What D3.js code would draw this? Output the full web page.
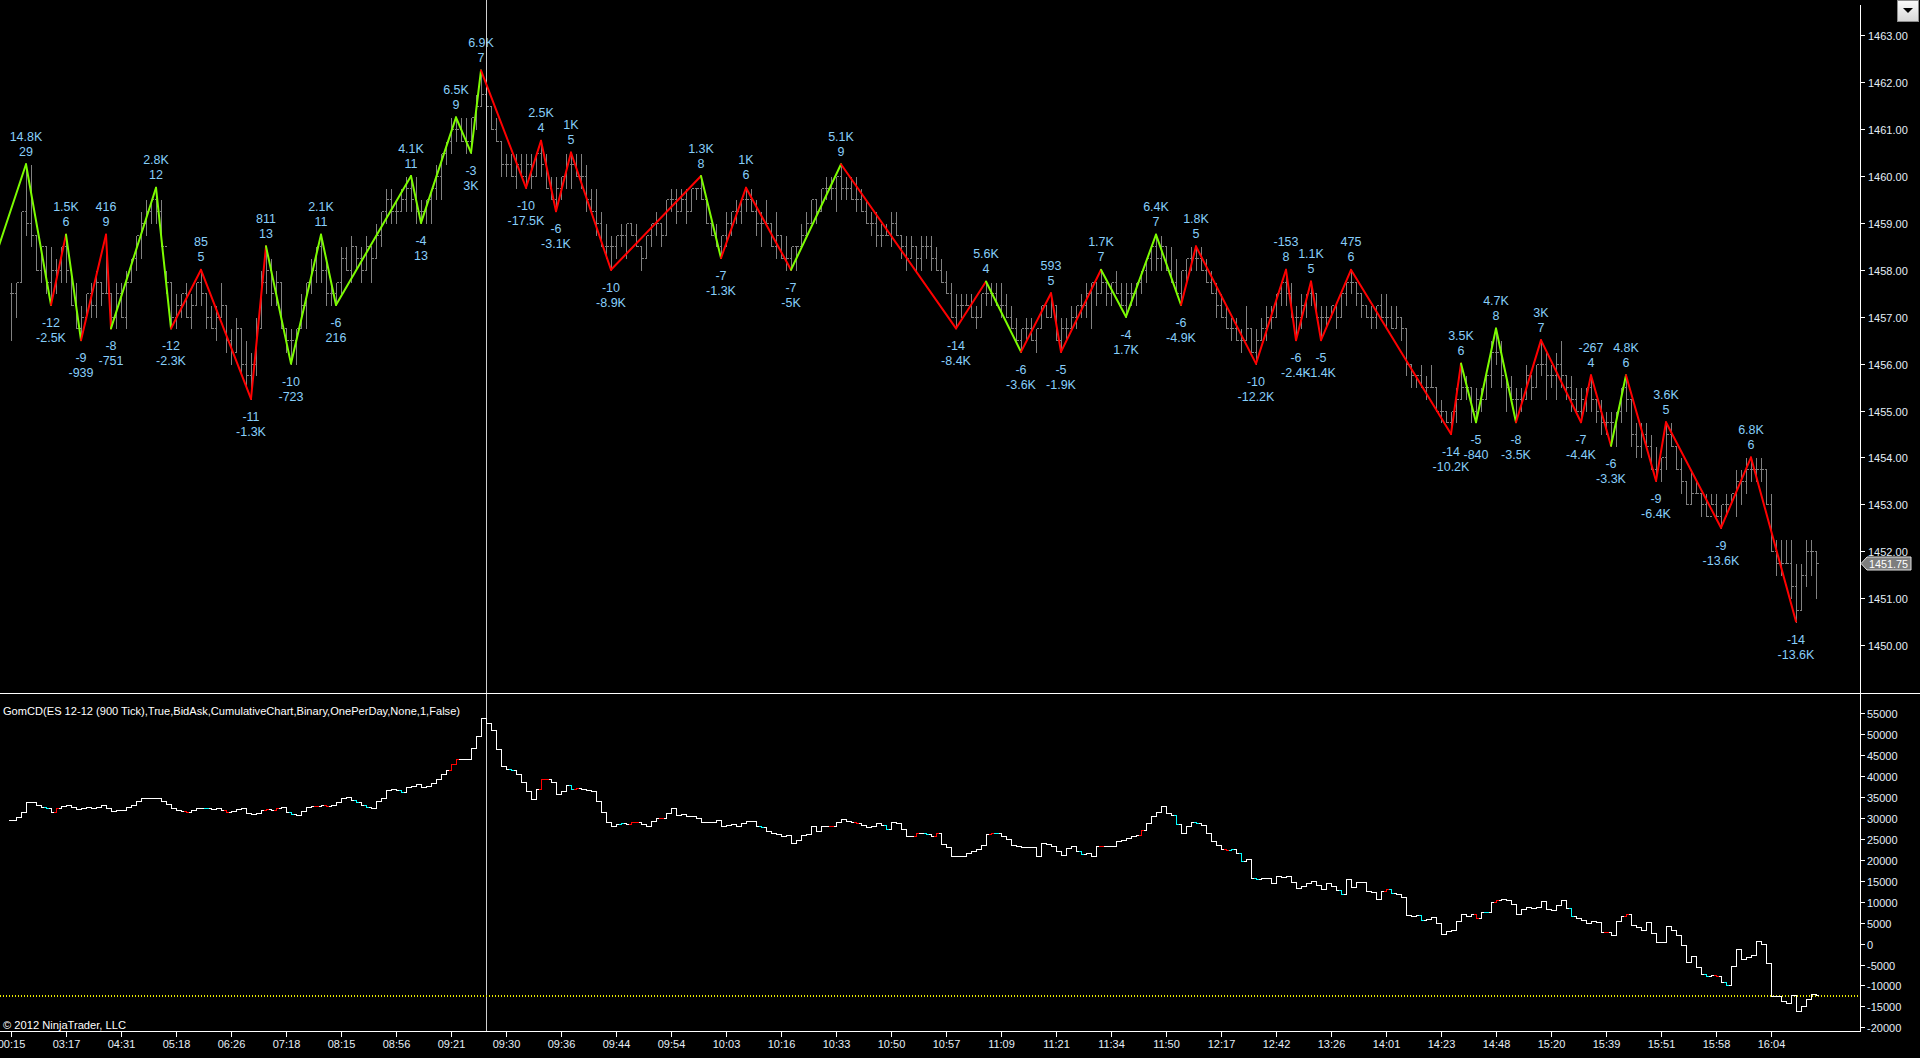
<!DOCTYPE html>
<html>
<head>
<meta charset="utf-8">
<script src="https://cdn.jsdelivr.net/npm/d3@7"></script>
<style>
html, body { margin: 0; padding: 0; background: #000; overflow: hidden; }
svg { display: block; }
text { font-family: "Liberation Sans", Arial, sans-serif; }
</style>
</head>
<body>
<svg id="chart" width="1920" height="1058"></svg>
<script>
// ES 12-12 900 tick bars: high / low / close per bar
const barHigh = [
  1457.75,1457.75,1459.25,1460.25,1460.25,1458.75,1458.5,1458.5,1458.5,1458.25,
  1458.5,1458.75,1458.0,1457.75,1457.25,1457.5,1457.75,1458.0,1457.75,1458.75,
  1457.5,1457.75,1457.75,1458.0,1458.25,1458.75,1459.25,1459.5,1459.5,1459.75,
  1459.5,1458.0,1457.75,1457.5,1457.5,1457.75,1457.5,1457.75,1458.0,1457.5,
  1457.25,1457.25,1457.75,1457.25,1456.75,1457.0,1456.75,1456.5,1456.25,1457.0,
  1458.0,1458.5,1458.25,1458.0,1457.75,1456.75,1456.75,1456.75,1457.5,1457.75,
  1458.25,1458.5,1458.75,1458.25,1457.75,1457.75,1458.5,1458.5,1458.75,1458.5,
  1458.5,1458.75,1458.5,1459.0,1459.25,1459.75,1459.75,1459.5,1459.75,1460.0,
  1460.0,1460.0,1459.5,1459.5,1459.75,1460.25,1460.5,1460.75,1461.25,1461.25,
  1461.25,1461.25,1461.25,1461.75,1462.25,1461.75,1461.5,1461.25,1460.75,1460.5,
  1460.5,1460.5,1460.5,1460.5,1460.5,1460.5,1460.75,1460.5,1460.0,1460.0,
  1460.0,1460.5,1460.5,1460.5,1460.5,1460.25,1459.75,1459.75,1459.25,1459.0,
  1458.75,1458.75,1459.0,1459.0,1459.0,1459.0,1458.5,1458.75,1459.0,1459.25,
  1459.0,1459.5,1459.75,1459.75,1459.75,1459.75,1459.75,1459.75,1460.0,1459.5,
  1459.0,1459.0,1458.75,1459.25,1459.25,1459.5,1459.5,1459.75,1459.75,1459.5,
  1459.25,1459.5,1459.0,1459.25,1458.75,1458.75,1458.5,1458.5,1459.0,1459.25,
  1459.5,1459.5,1459.75,1460.0,1460.0,1460.0,1460.25,1460.0,1460.0,1460.0,
  1459.75,1459.5,1459.25,1459.25,1459.0,1459.0,1459.25,1459.25,1458.75,1458.75,
  1458.75,1458.5,1458.75,1458.75,1458.75,1458.5,1458.25,1458.0,1457.75,1457.5,
  1457.5,1457.5,1457.5,1457.25,1457.5,1457.75,1457.75,1457.75,1457.75,1457.5,
  1457.25,1457.0,1456.75,1457.0,1457.0,1456.75,1457.25,1457.25,1457.5,1457.25,
  1457.0,1457.0,1457.25,1457.25,1457.5,1457.75,1457.75,1457.75,1458.0,1457.75,
  1457.75,1458.0,1457.75,1457.75,1457.75,1457.75,1458.0,1458.25,1458.5,1458.75,
  1458.75,1458.5,1458.5,1458.25,1458.0,1458.25,1458.5,1458.5,1458.5,1458.25,
  1458.0,1457.75,1457.5,1457.25,1457.0,1457.0,1456.75,1457.25,1456.75,1456.75,
  1457.0,1457.25,1457.25,1457.5,1457.75,1458.0,1457.75,1457.25,1457.5,1457.5,
  1457.75,1457.5,1457.25,1457.25,1457.25,1457.25,1457.5,1457.75,1458.0,1457.75,
  1457.5,1457.25,1457.25,1457.25,1457.5,1457.5,1457.25,1457.25,1457.0,1456.75,
  1456.0,1455.75,1456.0,1455.75,1456.0,1455.5,1455.25,1455.0,1455.0,1455.5,
  1456.0,1455.75,1455.5,1455.5,1455.5,1455.75,1456.5,1456.75,1456.5,1455.75,
  1455.75,1455.5,1455.5,1456.0,1455.75,1456.0,1456.5,1456.25,1456.0,1456.25,
  1456.5,1455.75,1455.75,1455.5,1455.5,1455.5,1455.75,1455.25,1455.25,1455.0,
  1455.0,1455.0,1455.5,1455.75,1455.25,1454.75,1454.75,1454.75,1454.5,1454.25,
  1454.0,1454.75,1454.75,1454.25,1454.0,1453.5,1453.75,1453.5,1453.25,1453.25,
  1453.25,1453.25,1453.0,1453.25,1453.25,1453.75,1453.75,1454.0,1454.0,1454.0,
  1454.0,1453.75,1453.25,1452.25,1452.25,1452.25,1452.25,1451.75,1451.75,1452.25,
  1452.25,1452.0
];
const barLow = [
  1456.5,1457.0,1457.75,1458.75,1458.5,1458.0,1457.75,1457.5,1457.25,1457.5,
  1457.75,1457.75,1457.25,1456.75,1456.5,1457.0,1457.0,1457.0,1457.25,1457.5,
  1456.75,1456.75,1457.0,1456.75,1457.75,1458.0,1458.25,1458.75,1459.0,1459.0,
  1458.5,1457.5,1456.75,1456.75,1457.0,1457.0,1456.75,1457.25,1457.25,1456.75,
  1456.75,1456.5,1457.0,1456.25,1456.0,1456.25,1455.75,1455.5,1455.25,1455.75,
  1456.75,1457.5,1457.25,1457.25,1456.75,1456.25,1456.0,1456.0,1456.75,1456.75,
  1457.5,1457.75,1457.75,1457.25,1457.25,1457.25,1457.5,1458.0,1457.75,1458.0,
  1457.75,1458.0,1457.75,1458.25,1458.5,1459.0,1459.0,1459.0,1459.25,1459.25,
  1459.25,1459.0,1459.0,1459.0,1459.0,1459.5,1459.5,1460.25,1460.5,1460.75,
  1460.75,1460.5,1460.5,1461.0,1461.5,1461.25,1461.0,1460.75,1460.0,1460.0,
  1460.0,1459.75,1460.0,1459.75,1459.75,1460.0,1460.0,1459.75,1459.5,1459.25,
  1459.5,1459.75,1459.75,1460.0,1459.75,1459.25,1459.25,1458.75,1458.5,1458.25,
  1458.0,1458.25,1458.5,1458.25,1458.75,1458.5,1458.0,1458.25,1458.5,1458.75,
  1458.5,1458.75,1459.25,1459.0,1459.25,1459.0,1459.25,1459.5,1459.5,1459.0,
  1458.75,1458.5,1458.25,1458.5,1458.75,1459.0,1459.0,1459.25,1459.25,1458.75,
  1458.5,1459.0,1458.5,1458.25,1458.25,1458.0,1458.0,1458.0,1458.5,1458.75,
  1459.0,1459.0,1459.25,1459.5,1459.5,1459.25,1459.5,1459.5,1459.5,1459.25,
  1459.25,1459.0,1458.75,1458.5,1458.5,1458.75,1458.5,1458.75,1458.25,1458.0,
  1458.25,1458.0,1458.0,1458.25,1458.0,1458.0,1457.75,1457.5,1457.0,1456.75,
  1457.0,1457.25,1457.0,1456.75,1457.0,1457.25,1457.25,1457.25,1457.0,1457.0,
  1456.75,1456.5,1456.25,1456.5,1456.5,1456.25,1456.75,1457.0,1457.0,1456.5,
  1456.25,1456.5,1456.75,1456.75,1457.0,1457.0,1456.75,1457.25,1457.5,1457.25,
  1457.25,1457.5,1457.25,1457.0,1457.25,1457.25,1457.5,1457.75,1458.0,1458.0,
  1458.0,1458.0,1457.75,1457.5,1457.25,1457.75,1458.0,1458.0,1458.0,1457.75,
  1457.5,1457.0,1457.0,1456.75,1456.5,1456.5,1456.25,1456.5,1456.25,1456.0,
  1456.5,1456.5,1456.75,1457.0,1457.25,1457.25,1457.0,1456.5,1456.75,1457.0,
  1457.25,1457.0,1456.5,1456.75,1457.0,1456.75,1457.0,1457.25,1457.5,1457.25,
  1457.0,1457.0,1456.75,1456.75,1457.0,1456.75,1456.75,1456.75,1456.5,1455.75,
  1455.5,1455.5,1455.5,1455.25,1455.5,1455.0,1454.75,1454.75,1454.5,1454.75,
  1455.25,1455.25,1454.75,1454.75,1455.0,1455.25,1455.5,1456.0,1455.5,1455.0,
  1455.25,1454.75,1455.0,1455.25,1455.25,1455.5,1455.75,1455.25,1455.5,1455.25,
  1455.5,1455.25,1455.0,1455.0,1454.75,1455.0,1455.0,1454.75,1454.5,1454.5,
  1454.25,1454.25,1454.75,1455.0,1454.25,1454.0,1454.0,1454.25,1453.75,1453.5,
  1453.5,1453.75,1454.25,1453.75,1453.25,1453.0,1453.0,1453.25,1452.75,1452.75,
  1453.0,1452.75,1452.5,1452.75,1453.0,1452.75,1453.0,1453.25,1453.5,1453.5,
  1453.5,1453.0,1452.0,1451.5,1451.5,1451.75,1451.0,1450.5,1450.75,1451.25,
  1451.5,1451.0
];
const barClose = [
  1457.5,1457.75,1459.25,1459.0,1458.75,1458.0,1458.5,1457.75,1458.0,1458.0,
  1458.5,1458.0,1457.25,1456.75,1457.0,1457.5,1457.25,1457.75,1457.5,1457.5,
  1457.0,1457.5,1457.0,1457.75,1458.25,1458.75,1459.0,1459.25,1459.5,1459.25,
  1458.5,1457.75,1457.0,1457.25,1457.5,1457.0,1457.25,1457.75,1457.5,1457.0,
  1456.75,1457.0,1457.25,1456.5,1456.25,1456.75,1456.0,1455.75,1456.0,1456.75,
  1457.75,1458.0,1457.5,1457.75,1456.75,1456.5,1456.5,1456.75,1457.25,1457.75,
  1458.0,1458.5,1458.0,1457.5,1457.5,1457.75,1458.25,1458.0,1458.5,1458.25,
  1458.0,1458.5,1458.25,1458.75,1459.25,1459.5,1459.25,1459.25,1459.5,1459.75,
  1459.5,1459.25,1459.25,1459.5,1459.75,1460.0,1460.5,1460.75,1461.0,1461.0,
  1460.75,1460.75,1461.25,1461.5,1461.75,1461.5,1461.0,1460.75,1460.25,1460.25,
  1460.0,1460.25,1460.0,1460.25,1460.0,1460.5,1460.25,1459.75,1459.5,1459.75,
  1460.0,1460.25,1460.25,1460.0,1460.0,1459.5,1459.25,1459.0,1458.5,1458.5,
  1458.5,1458.75,1458.75,1459.0,1458.75,1458.5,1458.25,1458.75,1459.0,1459.0,
  1458.75,1459.5,1459.5,1459.25,1459.5,1459.25,1459.75,1459.75,1459.5,1459.0,
  1458.75,1458.5,1458.75,1459.0,1459.25,1459.25,1459.5,1459.5,1459.25,1459.0,
  1459.0,1459.0,1458.5,1458.75,1458.25,1458.25,1458.5,1458.5,1458.75,1459.0,
  1459.5,1459.25,1459.75,1459.75,1459.75,1460.0,1459.75,1459.75,1459.5,1459.5,
  1459.25,1459.0,1459.0,1458.75,1458.75,1458.75,1459.0,1458.75,1458.5,1458.25,
  1458.5,1458.25,1458.5,1458.5,1458.25,1458.0,1457.75,1457.5,1457.0,1457.25,
  1457.25,1457.25,1457.0,1457.0,1457.5,1457.5,1457.5,1457.25,1457.25,1457.0,
  1456.75,1456.5,1456.75,1456.75,1456.5,1456.75,1457.25,1457.0,1457.25,1456.5,
  1456.75,1456.75,1457.0,1457.25,1457.25,1457.5,1457.75,1457.5,1457.75,1457.5,
  1457.75,1457.5,1457.25,1457.5,1457.5,1457.75,1458.0,1458.25,1458.5,1458.25,
  1458.5,1458.0,1457.75,1457.5,1458.0,1458.25,1458.25,1458.25,1458.0,1457.75,
  1457.5,1457.25,1457.0,1456.75,1456.75,1456.5,1456.5,1456.75,1456.25,1456.5,
  1456.75,1457.0,1457.0,1457.5,1457.75,1457.5,1457.0,1457.0,1457.25,1457.5,
  1457.5,1457.0,1457.0,1457.0,1457.25,1457.0,1457.5,1457.75,1457.75,1457.5,
  1457.25,1457.0,1457.0,1457.25,1457.0,1457.0,1456.75,1457.0,1456.75,1456.0,
  1455.75,1455.75,1455.5,1455.5,1455.5,1455.0,1455.0,1454.75,1455.0,1455.25,
  1455.5,1455.5,1455.0,1455.25,1455.25,1455.75,1456.25,1456.25,1455.75,1455.5,
  1455.25,1455.25,1455.25,1455.75,1455.5,1456.0,1456.0,1455.75,1455.75,1456.0,
  1455.75,1455.5,1455.25,1455.0,1455.25,1455.5,1455.25,1455.0,1454.75,1454.75,
  1454.75,1455.0,1455.5,1455.25,1454.5,1454.25,1454.5,1454.25,1453.75,1453.75,
  1454.0,1454.5,1454.25,1453.75,1453.5,1453.0,1453.25,1453.25,1453.0,1452.75,
  1453.0,1452.75,1453.0,1453.0,1453.25,1453.5,1453.5,1453.75,1453.75,1453.75,
  1453.75,1453.0,1452.0,1451.75,1451.75,1451.75,1451.25,1450.75,1451.5,1452.0,
  1452.0,1451.75
];

// swing pivots: bar index, price, labels, segment colours (G = up delta, R = down delta)
const pivotBar = [-4, 3, 8, 11, 14, 19, 20, 29, 32, 38, 48, 51, 56, 62, 65, 80, 82, 89, 92, 94,
  103, 106, 109, 112, 120, 138, 142, 147, 156, 166, 189, 195, 202, 208, 210, 218, 223, 229, 234, 237,
  249, 255, 257, 260, 262, 268, 288, 290, 293, 297, 301, 306, 314, 316, 320, 323, 329, 331, 342, 348, 357];
const pivotPrice = [1458.0, 1460.25, 1457.25, 1458.75, 1456.5, 1458.75, 1456.75, 1459.75, 1456.75, 1458.0,
  1455.25, 1458.5, 1456.0, 1458.75, 1457.25, 1460.0, 1459.0, 1461.25, 1460.5, 1462.25,
  1459.75, 1460.75, 1459.25, 1460.5, 1458.0, 1460.0, 1458.25, 1459.75, 1458.0, 1460.25,
  1456.75, 1457.75, 1456.25, 1457.5, 1456.25, 1458.0, 1457.0, 1458.75, 1457.25, 1458.5,
  1456.0, 1458.0, 1456.5, 1457.75, 1456.5, 1458.0, 1454.5, 1456.0, 1454.75, 1456.75,
  1454.75, 1456.5, 1454.75, 1455.75, 1454.25, 1455.75, 1453.5, 1454.75, 1452.5, 1454.0, 1450.5];
const pivotDelta = ["", "14.8K", "-2.5K", "1.5K", "-939", "416", "-751", "2.8K", "-2.3K", "85",
  "-1.3K", "811", "-723", "2.1K", "216", "4.1K", "13", "6.5K", "3K", "6.9K",
  "-17.5K", "2.5K", "-3.1K", "1K", "-8.9K", "1.3K", "-1.3K", "1K", "-5K", "5.1K",
  "-8.4K", "5.6K", "-3.6K", "593", "-1.9K", "1.7K", "1.7K", "6.4K", "-4.9K", "1.8K",
  "-12.2K", "-153", "-2.4K", "1.1K", "-1.4K", "475", "-10.2K", "3.5K", "-840", "4.7K",
  "-3.5K", "3K", "-4.4K", "-267", "-3.3K", "4.8K", "-6.4K", "3.6K", "-13.6K", "6.8K", "-13.6K"];
const pivotCount = ["", "29", "-12", "6", "-9", "9", "-8", "12", "-12", "5",
  "-11", "13", "-10", "11", "-6", "11", "-4", "9", "-3", "7",
  "-10", "4", "-6", "5", "-10", "8", "-7", "6", "-7", "9",
  "-14", "4", "-6", "5", "-5", "7", "-4", "7", "-6", "5",
  "-10", "8", "-6", "5", "-5", "6", "-14", "6", "-5", "8",
  "-8", "7", "-7", "4", "-6", "6", "-9", "5", "-9", "6", "-14"];
const segmentColor = "GGRGRRGGRRRGGGGGGGGRRRRRRGRRGRRGRRRGGGRRRRRRRRRGGGRRRRGRRRRR";

// cumulative delta, one value per bar
const cumDelta = [
  29500,30200,31500,33900,33700,33100,32700,32300,31500,32500,
  32900,33100,32600,32200,32300,32600,32300,32700,33000,32300,
  31700,31800,32000,32600,33100,34100,34800,34800,34800,34700,
  34100,33400,32300,32000,31700,31400,32000,32500,32500,32300,
  32100,32500,32000,31400,31700,32100,32300,31300,30900,31300,
  31800,32100,32000,32300,32600,31400,31000,30700,31700,32600,
  32900,32900,33100,32900,33100,33700,34700,35100,34300,33700,
  33100,32700,32300,34000,34700,36700,36800,36700,36300,37400,
  37600,38200,37400,37600,38400,39400,40600,41400,42800,44000,
  44100,44100,46800,49600,53800,52600,50900,46400,42400,41700,
  41400,40600,38600,36400,34600,36800,39200,39400,38600,35800,
  36400,37800,37000,37200,37000,36700,36400,34000,31500,29100,
  28100,28600,28700,28600,29000,29000,28500,28100,29300,29900,
  30100,31100,32300,30700,30900,30400,30400,30100,29100,29100,
  29000,29500,28100,28300,28500,28100,28900,29300,29300,28200,
  27800,27000,26400,26200,25600,26000,24000,24800,26000,26200,
  28000,27000,28000,28100,28100,29100,29800,29300,29100,28900,
  28300,27900,28100,28700,28300,27300,29100,28700,27300,25600,
  25600,26500,26500,26200,25600,26500,23800,23000,20800,20900,
  21000,21700,22200,22500,23500,26200,26500,26400,25600,25000,
  23600,23200,23000,23000,23000,20900,24100,23800,23300,22000,
  21200,22800,23300,22200,21400,21700,20800,23200,23300,23200,
  23300,24400,24800,25200,25600,26000,27200,28900,30400,31500,
  32800,31200,30700,28500,26400,28000,29100,28700,28300,26500,
  24400,23600,22600,22400,22600,21600,19700,20300,15700,15400,
  15600,15600,14400,16200,16000,16200,14600,13300,13800,14500,
  15000,14100,13000,14500,13800,12900,11900,15400,13600,14600,
  14600,12600,12200,10700,12500,13000,12000,11900,11100,6900,
  6700,6900,5700,5900,6300,4900,2400,3000,3300,5400,
  7100,6700,7100,6200,7500,7500,9900,10400,10700,10400,
  9500,7100,8300,8700,8500,8700,10100,8300,8100,9100,
  10300,8500,6700,6100,5700,4900,5500,5100,2800,2800,
  2000,5400,6700,7100,4500,4000,3300,5100,2500,400,
  400,4100,3200,2000,-400,-4300,-3000,-5500,-7300,-7700,
  -7500,-7700,-9100,-9900,-5400,-1400,-3600,-3300,-2800,600,
  0,-4700,-12600,-12500,-13800,-14100,-12200,-16200,-15000,-13300,
  -12000,-12200
];
const deltaCyanBars = [7, 39, 56, 69, 71, 78, 100, 112, 122, 150, 175, 183, 197, 214, 233, 237, 244, 246, 249, 266, 276, 282, 295, 312, 339, 343];
const deltaRedBars = [9, 35, 43, 51, 53, 61, 63, 88, 89, 106, 107, 113, 124, 125, 130, 164, 169, 181, 185, 196, 218, 226, 243, 275, 293, 297, 319, 323, 341];
const deltaLevel = -12300;

const priceTicks = [1450, 1451, 1452, 1453, 1454, 1455, 1456, 1457, 1458, 1459, 1460, 1461, 1462, 1463];
const deltaTicks = [55000, 50000, 45000, 40000, 35000, 30000, 25000, 20000, 15000, 10000, 5000, 0, -5000, -10000, -15000, -20000];
const timeLabels = ["00:15", "03:17", "04:31", "05:18", "06:26", "07:18", "08:15", "08:56", "09:21", "09:30", "09:36",
  "09:44", "09:54", "10:03", "10:16", "10:33", "10:50", "10:57", "11:09", "11:21", "11:34", "11:50",
  "12:17", "12:42", "13:26", "14:01", "14:23", "14:48", "15:20", "15:39", "15:51", "15:58", "16:04"];
const barsPerLabel = 11;
const lastPrice = 1451.75;
const crosshairBar = 95;

// layout
const W = 1920, H = 1058;
const axisX = 1860, sepY = 693, bottomY = 1031;
const axisText = '#e4eef8';

const svg = d3.select('#chart');
svg.append('rect').attr('width', W).attr('height', H).attr('fill', '#000');

const x = d3.scaleLinear().domain([0, barHigh.length - 1]).range([11, 11 + 5 * (barHigh.length - 1)]);
const yPrice = d3.scaleLinear().domain([1450, 1463]).range([645, 35.3]);
const yDelta = d3.scaleLinear().domain([-20000, 55000]).range([1027.3, 713.3]);
const px = i => Math.round(x(i)) + 0.5;
const py = v => Math.round(yPrice(v)) + 0.5;
const dy = v => Math.round(yDelta(v)) + 0.5;

const defs = svg.append('defs');
defs.append('clipPath').attr('id', 'clipMain')
  .append('rect').attr('x', 0).attr('y', 0).attr('width', axisX).attr('height', sepY);
defs.append('clipPath').attr('id', 'clipLower')
  .append('rect').attr('x', 0).attr('y', sepY + 1).attr('width', axisX).attr('height', bottomY - sepY - 1);
const grad = defs.append('linearGradient').attr('id', 'btnGrad').attr('x1', 0).attr('y1', 0).attr('x2', 0).attr('y2', 1);
grad.append('stop').attr('offset', '0%').attr('stop-color', '#fbfbfb');
grad.append('stop').attr('offset', '100%').attr('stop-color', '#d6d6d6');

// price bars
const barIdx = d3.range(barHigh.length);
svg.append('g')
  .attr('clip-path', 'url(#clipMain)')
  .attr('stroke', '#808080').attr('fill', 'none').attr('shape-rendering', 'crispEdges')
  .selectAll('path').data(barIdx).join('path')
  .attr('d', i => {
    const xi = px(i);
    const open = i > 0 ? barClose[i - 1] : barClose[i];
    return `M${xi},${py(barHigh[i])}V${py(barLow[i])}` +
      `M${xi - 2},${py(open)}H${xi}M${xi},${py(barClose[i])}H${xi + 2}`;
  });

// crosshair
svg.append('line')
  .attr('x1', px(crosshairBar)).attr('x2', px(crosshairBar))
  .attr('y1', 0).attr('y2', bottomY)
  .attr('stroke', '#cfcfcf').attr('stroke-width', 1).attr('shape-rendering', 'crispEdges');

// zigzag swings
const segIdx = d3.range(pivotBar.length - 1);
svg.append('g').attr('clip-path', 'url(#clipMain)')
  .selectAll('line').data(segIdx).join('line')
  .attr('x1', k => x(pivotBar[k])).attr('y1', k => yPrice(pivotPrice[k]))
  .attr('x2', k => x(pivotBar[k + 1])).attr('y2', k => yPrice(pivotPrice[k + 1]))
  .attr('stroke', k => segmentColor[k] === 'G' ? '#7cfc00' : '#ff0000')
  .attr('stroke-width', 2).attr('stroke-linecap', 'round');

// swing labels
const labelIdx = d3.range(1, pivotBar.length);
const isHigh = k => pivotPrice[k] > pivotPrice[k - 1];
const gLab = svg.append('g')
  .attr('fill', '#87cefa').attr('font-size', '12.5px').attr('text-anchor', 'middle');
labelIdx.forEach(k => {
  const xk = x(pivotBar[k]), yk = yPrice(pivotPrice[k]);
  if (isHigh(k)) {
    gLab.append('text').attr('x', xk).attr('y', yk - 23.5).text(pivotDelta[k]);
    gLab.append('text').attr('x', xk).attr('y', yk - 8.5).text(pivotCount[k]);
  } else {
    gLab.append('text').attr('x', xk).attr('y', yk + 22).text(pivotCount[k]);
    gLab.append('text').attr('x', xk).attr('y', yk + 37).text(pivotDelta[k]);
  }
});

// cumulative delta panel
const deltaColor = i => deltaCyanBars.includes(i) ? '#00ffff' : (deltaRedBars.includes(i) ? '#ff0000' : '#ffffff');
const gDelta = svg.append('g').attr('clip-path', 'url(#clipLower)')
  .attr('fill', 'none').attr('shape-rendering', 'crispEdges');

gDelta.append('line')
  .attr('x1', 0).attr('x2', axisX)
  .attr('y1', dy(deltaLevel)).attr('y2', dy(deltaLevel))
  .attr('stroke', '#e8e800').attr('stroke-width', 2).attr('stroke-dasharray', '1,2');

gDelta.selectAll('path').data(barIdx).join('path')
  .attr('stroke', deltaColor).attr('stroke-width', 1)
  .attr('d', i => {
    const xi = px(i);
    const open = i > 0 ? cumDelta[i - 1] : cumDelta[i];
    return `M${xi - 2.5},${dy(open)}H${xi}V${dy(cumDelta[i])}H${xi + 2.5}`;
  });

// frame lines
const frame = svg.append('g').attr('stroke', '#ffffff').attr('shape-rendering', 'crispEdges');
frame.append('line').attr('x1', 0).attr('x2', W).attr('y1', sepY + 0.5).attr('y2', sepY + 0.5);
frame.append('line').attr('x1', 0).attr('x2', axisX).attr('y1', bottomY + 0.5).attr('y2', bottomY + 0.5);
frame.append('line').attr('x1', axisX + 0.5).attr('x2', axisX + 0.5).attr('y1', 5).attr('y2', bottomY + 0.5);

// price axis
const gPA = svg.append('g');
priceTicks.forEach(p => {
  const yy = Math.round(yPrice(p)) + 0.5;
  gPA.append('line').attr('x1', axisX).attr('x2', axisX + 5).attr('y1', yy).attr('y2', yy)
    .attr('stroke', '#ffffff').attr('shape-rendering', 'crispEdges');
  gPA.append('text').attr('x', axisX + 8).attr('y', yy + 4)
    .attr('fill', axisText).attr('font-size', '11px').text(p.toFixed(2));
});

// last price marker
const yl = Math.round(yPrice(lastPrice)) + 0.5;
svg.append('path')
  .attr('d', `M${axisX + 1},${yl} L${axisX + 7},${yl - 6.5} H${axisX + 51} V${yl + 6.5} H${axisX + 7} Z`)
  .attr('fill', '#7d7d7d').attr('stroke', '#e0e0e0').attr('stroke-width', 1);
svg.append('text').attr('x', axisX + 9).attr('y', yl + 4)
  .attr('fill', '#ffffff').attr('font-size', '11px')
  .attr('textLength', 39).attr('lengthAdjust', 'spacingAndGlyphs')
  .text(lastPrice.toFixed(2));

// delta axis
const gDA = svg.append('g');
deltaTicks.forEach(v => {
  const yy = dy(v);
  gDA.append('line').attr('x1', axisX).attr('x2', axisX + 5).attr('y1', yy).attr('y2', yy)
    .attr('stroke', '#ffffff').attr('shape-rendering', 'crispEdges');
  gDA.append('text').attr('x', axisX + 7).attr('y', yy + 4)
    .attr('fill', axisText).attr('font-size', '11px').text(String(v));
});

// time axis
const gTA = svg.append('g');
timeLabels.forEach((t, k) => {
  const xx = px(k * barsPerLabel);
  gTA.append('line').attr('x1', xx).attr('x2', xx).attr('y1', bottomY).attr('y2', bottomY + 6)
    .attr('stroke', '#ffffff').attr('shape-rendering', 'crispEdges');
  gTA.append('text').attr('x', xx).attr('y', bottomY + 16.5).attr('text-anchor', 'middle')
    .attr('fill', axisText).attr('font-size', '11px').text(t);
});

// indicator caption and copyright
svg.append('text').attr('x', 3).attr('y', 714.5)
  .attr('fill', '#ffffff').attr('font-size', '11px')
  .attr('textLength', 457).attr('lengthAdjust', 'spacingAndGlyphs')
  .text('GomCD(ES 12-12 (900 Tick),True,BidAsk,CumulativeChart,Binary,OnePerDay,None,1,False)');
svg.append('text').attr('x', 3).attr('y', 1028.5)
  .attr('fill', '#ffffff').attr('font-size', '11px')
  .attr('textLength', 123).attr('lengthAdjust', 'spacingAndGlyphs')
  .text('\u00a9 2012 NinjaTrader, LLC');

// drop-down button, top right
svg.append('rect').attr('x', 1897.5).attr('y', 0.5).attr('width', 21).attr('height', 21)
  .attr('fill', 'url(#btnGrad)').attr('stroke', '#8c8c8c');
svg.append('path').attr('d', 'M1903,8 H1913 L1908,13 Z').attr('fill', '#000');
</script>
</body>
</html>
